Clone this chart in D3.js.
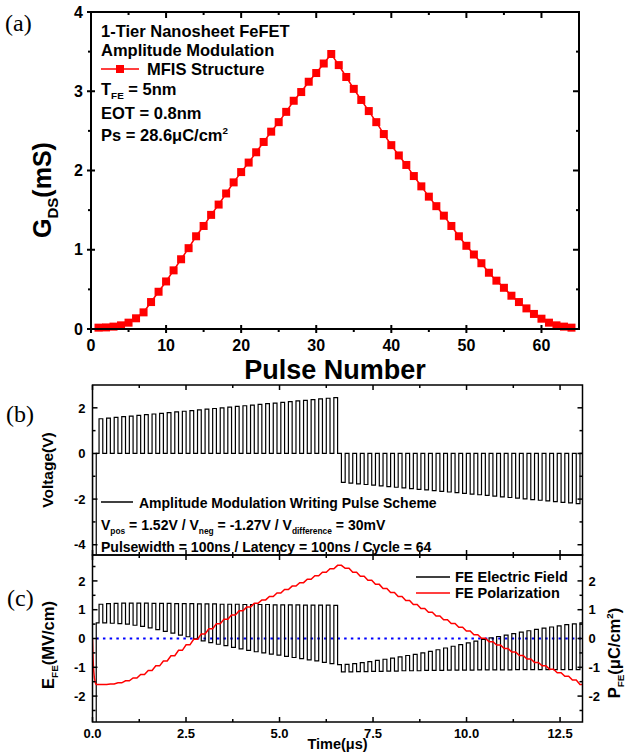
<!DOCTYPE html>
<html>
<head>
<meta charset="utf-8">
<title>1-Tier Nanosheet FeFET amplitude modulation</title>
<script src="https://cdn.jsdelivr.net/npm/d3@7/dist/d3.min.js"></script>
<style>
  html, body { margin: 0; padding: 0; background: #fff; }
  svg { display: block; }
</style>
</head>
<body>
<svg id="fig" width="628" height="753"></svg>
<script>
// ---------- Panel (a): channel conductance after each programming pulse ----------
const pulseNumber = [1,2,3,4,5,6,7,8,9,10,11,12,13,14,15,16,17,18,19,20,21,22,23,24,25,26,27,28,29,30,31,32,
  33,34,35,36,37,38,39,40,41,42,43,44,45,46,47,48,49,50,51,52,53,54,55,56,57,58,59,60,61,62,63,64];
const gdsMilliSiemens = [0.017,0.02,0.03,0.046,0.08,0.135,0.21,0.34,0.47,0.60,0.74,0.88,1.02,1.17,1.30,1.44,
  1.57,1.71,1.85,1.98,2.10,2.23,2.36,2.49,2.61,2.74,2.88,2.99,3.12,3.23,3.35,3.47,
  3.33,3.18,3.03,2.89,2.75,2.61,2.46,2.32,2.19,2.07,1.93,1.80,1.67,1.55,1.43,1.30,
  1.17,1.05,0.94,0.83,0.71,0.61,0.52,0.42,0.34,0.26,0.19,0.13,0.08,0.046,0.03,0.017];
const pulseTicks = [0,10,20,30,40,50,60];
const pulseMinorTicks = [5,15,25,35,45,55];
const gdsTicks = [0,1,2,3,4];
const gdsMinorTicks = [0.5,1.5,2.5,3.5];

// ---------- Panel (b): gate voltage writing scheme ----------
const positivePulseVolts = [1.52,1.55,1.58,1.61,1.64,1.67,1.70,1.73,1.76,1.79,1.82,1.85,1.88,1.91,1.94,1.97,
  2.00,2.03,2.06,2.09,2.12,2.15,2.18,2.21,2.24,2.27,2.30,2.33,2.36,2.39,2.42,2.45];
const negativePulseVolts = [-1.27,-1.30,-1.33,-1.36,-1.39,-1.42,-1.45,-1.48,-1.51,-1.54,-1.57,-1.60,-1.63,-1.66,-1.69,-1.72,
  -1.75,-1.78,-1.81,-1.84,-1.87,-1.90,-1.93,-1.96,-1.99,-2.02,-2.05,-2.08,-2.11,-2.14,-2.17,-2.20];
const eraseVolts = -5.5;
const eraseWidthUs = 0.1;
const firstPulseUs = 0.175;
const cyclePeriodUs = 0.2025;
const pulseWidthUs = 0.1;
const endTimeUs = 13.1;
const voltageTicks = [-4,-2,0,2];
const voltageMinorTicks = [-3,-1,1];
const timeTicks = [0,2.5,5,7.5,10,12.5];
const timeMinorTicks = [1.25,3.75,6.25,8.75,11.25];

// ---------- Panel (c): ferroelectric field and polarization ----------
const fieldDuringErase = -5;
const fieldBeforeFirstPulse = 0.54;
const fieldDuringPositivePulse = [1.19,1.21,1.22,1.23,1.23,1.23,1.23,1.22,1.22,1.22,1.21,1.21,1.21,1.20,1.20,1.20,
  1.19,1.19,1.19,1.18,1.18,1.18,1.18,1.17,1.17,1.17,1.17,1.16,1.16,1.16,1.16,1.15];
const fieldAfterPositivePulse = [0.54,0.53,0.52,0.50,0.46,0.42,0.37,0.31,0.25,0.19,0.12,0.06,-0.01,-0.08,-0.14,-0.20,
  -0.25,-0.31,-0.36,-0.41,-0.46,-0.50,-0.54,-0.58,-0.62,-0.66,-0.70,-0.74,-0.78,-0.83,-0.87,-0.91];
const fieldDuringNegativePulse = [-1.16,-1.16,-1.15,-1.15,-1.14,-1.14,-1.13,-1.13,-1.12,-1.12,-1.12,-1.11,-1.11,-1.11,-1.10,-1.10,
  -1.10,-1.10,-1.09,-1.09,-1.09,-1.09,-1.09,-1.08,-1.08,-1.08,-1.08,-1.08,-1.08,-1.08,-1.08,-1.08];
const fieldAfterNegativePulse = [-0.90,-0.87,-0.84,-0.80,-0.76,-0.72,-0.68,-0.64,-0.59,-0.55,-0.50,-0.45,-0.39,-0.33,-0.27,-0.21,
  -0.15,-0.09,-0.03,0.02,0.07,0.12,0.17,0.22,0.27,0.32,0.36,0.40,0.44,0.48,0.51,0.54];
const eraseTransientTimeUs = [0,0.01,0.025,0.05,0.08,0.1];
const eraseTransientPolarization = [0,-0.5,-1.0,-1.38,-1.55,-1.6];
const polarizationAfterPositivePulse = [-1.60,-1.58,-1.54,-1.47,-1.37,-1.25,-1.11,-0.95,-0.78,-0.60,-0.41,-0.22,-0.03,0.16,0.34,0.51,
  0.67,0.82,0.96,1.09,1.22,1.34,1.46,1.58,1.70,1.82,1.94,2.06,2.18,2.30,2.42,2.54];
const polarizationAfterNegativePulse = [2.44,2.30,2.16,2.02,1.88,1.74,1.60,1.46,1.32,1.18,1.04,0.91,0.78,0.65,0.52,0.39,
  0.26,0.13,0.01,-0.11,-0.23,-0.35,-0.47,-0.59,-0.71,-0.83,-0.95,-1.07,-1.19,-1.31,-1.44,-1.60];
const fieldTicks = [-2,-1,0,1,2];
const fieldMinorTicks = [-2.5,-1.5,-0.5,0.5,1.5,2.5];

// ---------- layout ----------
const SANS = 'Arial, "Liberation Sans", Helvetica, sans-serif';
const SERIF = '"Times New Roman", "Liberation Serif", Times, serif';
const boxA = {l: 91, r: 579, t: 12, b: 329};
const boxB = {l: 92.5, r: 582.5, t: 385, b: 555};
const boxC = {l: 92.5, r: 582.5, t: 555, b: 722};

const svg = d3.select('#fig');

const xA = d3.scaleLinear().domain([0, 65]).range([boxA.l, boxA.r]);
const yA = d3.scaleLinear().domain([0, 4]).range([boxA.b, boxA.t]);
const xT = d3.scaleLinear().domain([0, endTimeUs]).range([boxB.l, boxB.r]);
const yB = d3.scaleLinear().domain([-4.45, 3]).range([boxB.b, boxB.t]);
const yC = d3.scaleLinear().domain([-2.9, 2.9]).range([boxC.b, boxC.t]);

// text with sub/superscript pieces: each part is a string or [string, shiftPx, scale]
function richText(parent, x, y, parts, size, attrs = {}) {
  const t = parent.append('text').attr('x', x).attr('y', y)
    .attr('font-family', SANS).attr('font-weight', 'bold').attr('font-size', size).attr('fill', '#000');
  Object.entries(attrs).forEach(([k, v]) => t.attr(k, v));
  let cur = 0;
  parts.forEach(p => {
    const [str, shift = 0, scale = 1] = Array.isArray(p) ? p : [p];
    t.append('tspan').attr('dy', shift - cur).attr('font-size', size * scale).text(str);
    cur = shift;
  });
  return t;
}

function vTicks(g, scale, values, x, dirIn, inLen, outLen, w) {
  g.selectAll(null).data(values).enter().append('line')
    .attr('x1', x - dirIn * outLen).attr('x2', x + dirIn * inLen)
    .attr('y1', d => scale(d)).attr('y2', d => scale(d))
    .attr('stroke', '#000').attr('stroke-width', w);
}
function hTicks(g, scale, values, y, dirIn, inLen, outLen, w) {
  g.selectAll(null).data(values).enter().append('line')
    .attr('y1', y - dirIn * outLen).attr('y2', y + dirIn * inLen)
    .attr('x1', d => scale(d)).attr('x2', d => scale(d))
    .attr('stroke', '#000').attr('stroke-width', w);
}
function frame(g, box, w) {
  g.append('rect').attr('x', box.l).attr('y', box.t)
    .attr('width', box.r - box.l).attr('height', box.b - box.t)
    .attr('fill', 'none').attr('stroke', '#000').attr('stroke-width', w);
}
function clip(id, box) {
  svg.append('clipPath').attr('id', id).append('rect')
    .attr('x', box.l).attr('y', box.t).attr('width', box.r - box.l).attr('height', box.b - box.t);
}

// ======================= Panel (a) =======================
const gA = svg.append('g');
const gdsPoints = pulseNumber.map((p, i) => [p, gdsMilliSiemens[i]]);
gA.append('path').datum(gdsPoints)
  .attr('d', d3.line().x(d => xA(d[0])).y(d => yA(d[1])))
  .attr('fill', 'none').attr('stroke', '#ff0000').attr('stroke-width', 1.5);
gA.selectAll('rect.sq').data(gdsPoints).enter().append('rect').attr('class', 'sq')
  .attr('x', d => xA(d[0]) - 4).attr('y', d => yA(d[1]) - 4)
  .attr('width', 8).attr('height', 8).attr('fill', '#ff0000');

frame(gA, boxA, 2);
vTicks(gA, yA, gdsTicks, boxA.l, 1, 4, 4, 2);
vTicks(gA, yA, gdsMinorTicks, boxA.l, 1, 0, 3, 2);
vTicks(gA, yA, gdsTicks, boxA.r, -1, 6, 0, 2);
vTicks(gA, yA, gdsMinorTicks, boxA.r, -1, 3, 0, 2);
hTicks(gA, xA, pulseTicks, boxA.b, -1, 4, 4, 2);
hTicks(gA, xA, pulseMinorTicks, boxA.b, -1, 0, 3, 2);
hTicks(gA, xA, pulseTicks, boxA.t, 1, 6, 0, 2);
hTicks(gA, xA, pulseMinorTicks, boxA.t, 1, 3, 0, 2);

gA.selectAll('text.yt').data(gdsTicks).enter().append('text').attr('class', 'yt')
  .attr('x', boxA.l - 8).attr('y', d => yA(d) + 5.7).attr('text-anchor', 'end')
  .attr('font-family', SANS).attr('font-weight', 'bold').attr('font-size', 16).text(d => d);
gA.selectAll('text.xt').data(pulseTicks).enter().append('text').attr('class', 'xt')
  .attr('x', d => xA(d)).attr('y', 351).attr('text-anchor', 'middle')
  .attr('font-family', SANS).attr('font-weight', 'bold').attr('font-size', 16).text(d => d);

richText(gA, (boxA.l + boxA.r) / 2, 378.5, ['Pulse Number'], 27, {'text-anchor': 'middle'});
richText(gA, 51, 190, ['G', ['DS', 7, 0.6], ['(mS)', 0, 1]], 25,
  {'text-anchor': 'middle', transform: 'rotate(-90, 51, 190)'});

// legend / annotation
richText(gA, 101, 36.5, ['1-Tier Nanosheet FeFET'], 16.5);
richText(gA, 101, 55.5, ['Amplitude Modulation'], 16.5);
gA.append('line').attr('x1', 101).attr('x2', 139).attr('y1', 69).attr('y2', 69)
  .attr('stroke', '#ff0000').attr('stroke-width', 1.5);
gA.append('rect').attr('x', 116).attr('y', 65).attr('width', 8).attr('height', 8).attr('fill', '#ff0000');
richText(gA, 147, 75, ['MFIS Structure'], 16.5);
richText(gA, 101, 95, ['T', ['FE', 4, 0.6], [' = 5nm', 0, 1]], 16.5);
richText(gA, 101, 118.5, ['EOT = 0.8nm'], 16.5);
richText(gA, 101, 141, ['Ps = 28.6\u03bcC/cm', ['2', -7, 0.6]], 16.5);

svg.append('text').attr('x', 5).attr('y', 31).attr('font-family', SERIF).attr('font-size', 24).text('(a)');

// ======================= Panel (b) =======================
const gB = svg.append('g');
clip('clipB', boxB);
const pulseAmps = positivePulseVolts.concat(negativePulseVolts);
const voltagePts = [[0, 0], [0, eraseVolts], [eraseWidthUs, eraseVolts], [eraseWidthUs, 0]];
pulseAmps.forEach((a, i) => {
  const s = firstPulseUs + i * cyclePeriodUs, e = s + pulseWidthUs;
  voltagePts.push([s, 0], [s, a], [e, a], [e, 0]);
});
voltagePts.push([endTimeUs, 0]);
gB.append('path').datum(voltagePts).attr('clip-path', 'url(#clipB)')
  .attr('d', d3.line().x(d => xT(d[0])).y(d => yB(d[1])))
  .attr('fill', 'none').attr('stroke', '#000').attr('stroke-width', 1.2);

frame(gB, boxB, 1.5);
vTicks(gB, yB, voltageTicks, boxB.l, 1, 5, 0, 1.5);
vTicks(gB, yB, voltageMinorTicks, boxB.l, 1, 3, 0, 1.5);
vTicks(gB, yB, voltageTicks, boxB.r, -1, 5, 0, 1.5);
vTicks(gB, yB, voltageMinorTicks, boxB.r, -1, 3, 0, 1.5);
hTicks(gB, xT, timeTicks, boxB.t, 1, 5, 0, 1.5);
hTicks(gB, xT, timeMinorTicks, boxB.t, 1, 3, 0, 1.5);
hTicks(gB, xT, timeTicks, boxB.b, -1, 5, 0, 1.5);
hTicks(gB, xT, timeMinorTicks, boxB.b, -1, 3, 0, 1.5);

gB.selectAll('text.yt').data(voltageTicks).enter().append('text').attr('class', 'yt')
  .attr('x', boxB.l - 7).attr('y', d => yB(d) + 4.7).attr('text-anchor', 'end')
  .attr('font-family', SANS).attr('font-weight', 'bold').attr('font-size', 13).text(d => d);
richText(gB, 52.5, (boxB.t + boxB.b) / 2, ['Voltage(V)'], 15.5,
  {'text-anchor': 'middle', transform: `rotate(-90, 52.5, ${(boxB.t + boxB.b) / 2})`});

gB.append('line').attr('x1', 101).attr('x2', 133).attr('y1', 502).attr('y2', 502)
  .attr('stroke', '#000').attr('stroke-width', 1.5);
richText(gB, 139, 507.5, ['Amplitude Modulation Writing Pulse Scheme'], 14);
richText(gB, 101, 529.5, ['V', ['pos', 4, 0.6], [' = 1.52V / V', 0, 1], ['neg', 4, 0.6],
  [' = -1.27V / V', 0, 1], ['difference', 4, 0.6], [' = 30mV', 0, 1]], 14);
richText(gB, 101, 552, ['Pulsewidth = 100ns / Latency = 100ns / Cycle = 64'], 14);

svg.append('text').attr('x', 6).attr('y', 422).attr('font-family', SERIF).attr('font-size', 24).text('(b)');

// ======================= Panel (c) =======================
const gC = svg.append('g');
clip('clipC', boxC);

gC.append('line').attr('x1', xT(eraseWidthUs)).attr('x2', boxC.r)
  .attr('y1', yC(0)).attr('y2', yC(0))
  .attr('stroke', '#0000ff').attr('stroke-width', 2.2).attr('stroke-dasharray', '2.5,4.2');

const fieldPts = [[0, fieldDuringErase], [eraseWidthUs, fieldDuringErase], [eraseWidthUs, fieldBeforeFirstPulse]];
const polPts = eraseTransientTimeUs.map((t, i) => [t, eraseTransientPolarization[i]]);
let level = fieldBeforeFirstPulse;
let pol = eraseTransientPolarization[eraseTransientPolarization.length - 1];
for (let i = 0; i < 64; i++) {
  const s = firstPulseUs + i * cyclePeriodUs, e = s + pulseWidthUs;
  const during = i < 32 ? fieldDuringPositivePulse[i] : fieldDuringNegativePulse[i - 32];
  const after = i < 32 ? fieldAfterPositivePulse[i] : fieldAfterNegativePulse[i - 32];
  fieldPts.push([s, level], [s, during], [e, during], [e, after]);
  level = after;
  const pNext = i < 32 ? polarizationAfterPositivePulse[i] : polarizationAfterNegativePulse[i - 32];
  polPts.push([s, pol], [e, pNext]);
  pol = pNext;
}
fieldPts.push([endTimeUs, level]);
polPts.push([endTimeUs, pol]);

gC.append('path').datum(fieldPts).attr('clip-path', 'url(#clipC)')
  .attr('d', d3.line().x(d => xT(d[0])).y(d => yC(d[1])))
  .attr('fill', 'none').attr('stroke', '#000').attr('stroke-width', 1.2);
gC.append('path').datum(polPts).attr('clip-path', 'url(#clipC)')
  .attr('d', d3.line().x(d => xT(d[0])).y(d => yC(d[1])))
  .attr('fill', 'none').attr('stroke', '#ff0000').attr('stroke-width', 1.5);

frame(gC, boxC, 1.5);
vTicks(gC, yC, fieldTicks, boxC.l, 1, 5, 0, 1.5);
vTicks(gC, yC, fieldMinorTicks, boxC.l, 1, 3, 0, 1.5);
vTicks(gC, yC, fieldTicks, boxC.r, -1, 5, 0, 1.5);
vTicks(gC, yC, fieldMinorTicks, boxC.r, -1, 3, 0, 1.5);
hTicks(gC, xT, timeTicks, boxC.t, 1, 5, 0, 1.5);
hTicks(gC, xT, timeMinorTicks, boxC.t, 1, 3, 0, 1.5);
hTicks(gC, xT, timeTicks, boxC.b, -1, 5, 0, 1.5);
hTicks(gC, xT, timeMinorTicks, boxC.b, -1, 3, 0, 1.5);

gC.selectAll('text.yl').data(fieldTicks).enter().append('text').attr('class', 'yl')
  .attr('x', boxC.l - 7).attr('y', d => yC(d) + 4.7).attr('text-anchor', 'end')
  .attr('font-family', SANS).attr('font-weight', 'bold').attr('font-size', 13).text(d => d);
gC.selectAll('text.yr').data(fieldTicks).enter().append('text').attr('class', 'yr')
  .attr('x', boxC.r + 6).attr('y', d => yC(d) + 4.7).attr('text-anchor', 'start')
  .attr('font-family', SANS).attr('font-weight', 'bold').attr('font-size', 13).text(d => d);
gC.selectAll('text.xt').data(timeTicks).enter().append('text').attr('class', 'xt')
  .attr('x', d => xT(d)).attr('y', 737.5).attr('text-anchor', 'middle')
  .attr('font-family', SANS).attr('font-weight', 'bold').attr('font-size', 13).text(d => d.toFixed(1));

richText(gC, (boxC.l + boxC.r) / 2, 749, ['Time(\u03bcs)'], 14.5, {'text-anchor': 'middle'});
richText(gC, 54, 645, ['E', ['FE', 4, 0.6], ['(MV/cm)', 0, 1]], 16.5,
  {'text-anchor': 'middle', transform: 'rotate(-90, 54, 645)'});
richText(gC, 620, 653, ['P', ['FE', 4, 0.6], ['(\u03bcC/cm', 0, 1], ['2', -7, 0.6], [')', 0, 1]], 16.5,
  {'text-anchor': 'middle', transform: 'rotate(-90, 620, 653)'});

gC.append('line').attr('x1', 416).attr('x2', 450).attr('y1', 577).attr('y2', 577)
  .attr('stroke', '#000').attr('stroke-width', 1.5);
richText(gC, 455, 582, ['FE Electric Field'], 14.5);
gC.append('line').attr('x1', 416).attr('x2', 450).attr('y1', 593).attr('y2', 593)
  .attr('stroke', '#ff0000').attr('stroke-width', 1.5);
richText(gC, 455, 598, ['FE Polarization'], 14.5);

svg.append('text').attr('x', 7).attr('y', 606).attr('font-family', SERIF).attr('font-size', 24).text('(c)');
</script>
</body>
</html>
